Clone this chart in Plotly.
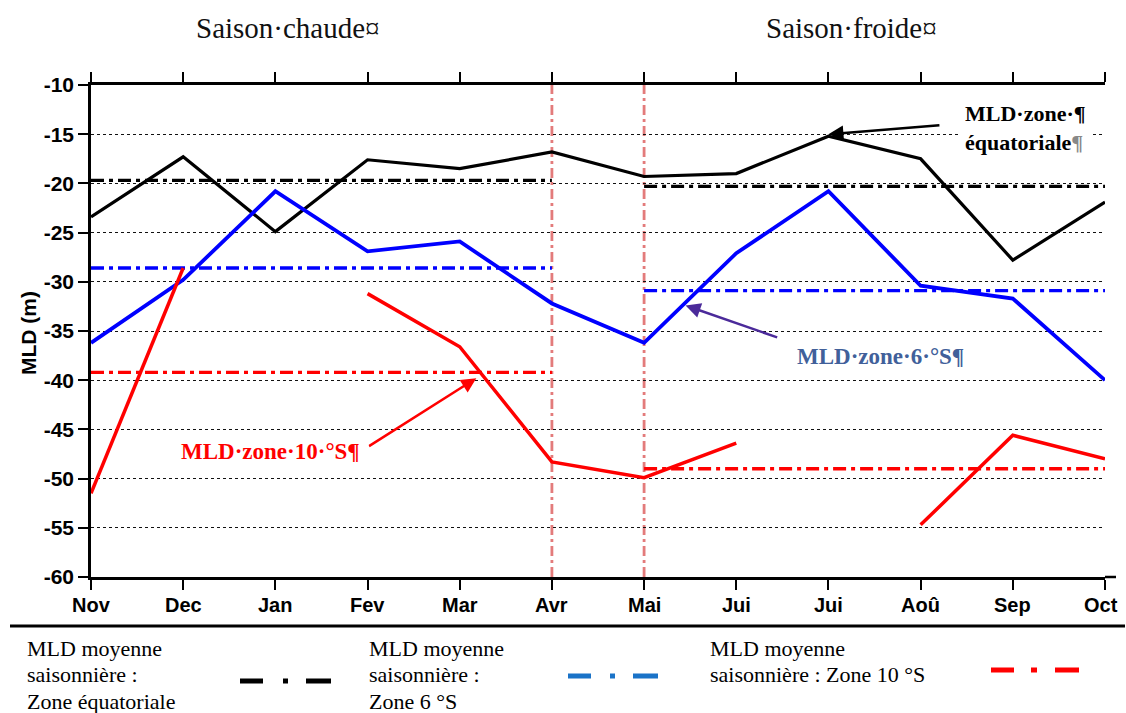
import plotly.graph_objects as go

# Months (Nov -> Oct); "Jui" appears twice (juin / juillet)
months = ["Nov", "Dec", "Jan", "Fev", "Mar", "Avr", "Mai", "Jui", "Jui", "Aoû", "Sep", "Oct"]

# Monthly mixed layer depth (m) per zone
mld_equateur = [-23.4, -17.3, -24.9, -17.6, -18.5, -16.8, -19.3, -19.0, -15.2, -17.5, -27.8, -21.9]
mld_6s = [-36.2, -29.8, -20.8, -26.9, -25.9, -32.2, -36.2, -27.1, -20.8, -30.4, -31.7, -40.0]
mld_10s = [-51.5, -28.6, None, -31.2, -36.6, -48.3, -49.9, -46.4, None, -54.7, -45.6, -48.0]

# Seasonal means (m): (saison chaude, saison froide)
moy_equateur = [-19.7, -20.3]
moy_6s = [-28.6, -30.9]
moy_10s = [-39.2, -49.0]

# Season spans as month indices
saison_chaude = [0, 5]
saison_froide = [6, 11]

y_ticks = [-10, -15, -20, -25, -30, -35, -40, -45, -50, -55, -60]

# Layout geometry (pixels)
W, H = 1126, 713
ML, MR, MT, MB = 91, 21, 85, 136
PW, PH = W - ML - MR, H - MT - MB


def px(x):
    return (x - ML) / PW


def py(y):
    return (H - MB - y) / PH


x = list(range(len(months)))
fig = go.Figure()

BLACK, BLUE, RED = "#000000", "#0000ff", "#ff0000"
mean_dash = "13px,5px,4px,5px"

# seasonal mean lines
for moy, col in [(moy_equateur, BLACK), (moy_6s, BLUE), (moy_10s, RED)]:
    for span, val in zip([saison_chaude, saison_froide], moy):
        fig.add_trace(go.Scatter(
            x=span, y=[val, val], mode="lines",
            line=dict(color=col, width=3.3, dash=mean_dash),
            showlegend=False, hoverinfo="skip"))

# monthly series
for serie, col, w in [(mld_equateur, BLACK, 3.2), (mld_6s, BLUE, 3.8), (mld_10s, RED, 3.5)]:
    fig.add_trace(go.Scatter(
        x=x, y=serie, mode="lines", connectgaps=False,
        line=dict(color=col, width=w), showlegend=False))

# season boundaries
for xb in [saison_chaude[1], saison_froide[0]]:
    fig.add_shape(type="line", xref="x", yref="paper", x0=xb, x1=xb, y0=0, y1=1,
                  line=dict(color="rgba(222,100,100,0.85)", width=2.8, dash="10px,4px,3px,4px"),
                  layer="below")

# bottom axis line runs a little past the last month
fig.add_shape(type="line", xref="paper", yref="paper", x0=1, x1=px(1116), y0=0, y1=0,
              line=dict(color="black", width=2.5))

serif = "Liberation Serif"
sans = "Liberation Sans"

# month labels under the axis (last one kept inside the page)
for i, m in enumerate(months):
    last = i == len(months) - 1
    fig.add_annotation(x=i, y=py(605), xref="x", yref="paper", showarrow=False,
                       xanchor="right" if last else "center", yanchor="middle",
                       xshift=15 if last else 0, text=m,
                       font=dict(family=sans, size=20, color="black", weight="bold"))

# arrows
arrows = [
    (8.0, -15.0, 9.22, -14.07, BLACK),
    (6.45, -32.4, 7.46, -35.7, "#4b2a9a"),
    (4.18, -39.8, 3.0, -46.8, RED),
]
for hx, hy, tx, ty, col in arrows:
    fig.add_annotation(x=hx, y=hy, ax=tx, ay=ty, xref="x", yref="y", axref="x", ayref="y",
                       text="", showarrow=True, arrowhead=2, arrowsize=1.2,
                       arrowwidth=2.5, arrowcolor=col)

# zone labels
fig.add_annotation(x=px(958), y=py(128), xref="paper", yref="paper", xanchor="left",
                   yanchor="middle", align="left", showarrow=False, bgcolor="white",
                   borderpad=6,
                   text="MLD·zone·¶<br>équatoriale<span style='color:#888'>¶</span>",
                   font=dict(family=serif, size=22, color=BLACK, weight="bold"))
fig.add_annotation(x=px(795), y=py(356), xref="paper", yref="paper", xanchor="left",
                   yanchor="middle", showarrow=False,
                   text="MLD·zone·6·°S¶",
                   font=dict(family=serif, size=23, color="#41609a", weight="bold"))
fig.add_annotation(x=px(172), y=py(451), xref="paper", yref="paper", xanchor="left",
                   yanchor="middle", showarrow=False, bgcolor="white", borderpad=8,
                   text="MLD·zone·10·°S¶",
                   font=dict(family=serif, size=23, color=RED, weight="bold"))

# season headers
for txt, cx in [("Saison·chaude¤", 288), ("Saison·froide¤", 851)]:
    fig.add_annotation(x=px(cx), y=py(28), xref="paper", yref="paper", showarrow=False,
                       xanchor="center", yanchor="middle",
                       text=txt, font=dict(family=serif, size=29, color="#111"))

# y title
fig.add_annotation(x=px(28), y=py(333), xref="paper", yref="paper", showarrow=False,
                   xanchor="center", yanchor="middle",
                   text="MLD (m)", textangle=-90,
                   font=dict(family=sans, size=21, color="black", weight="bold"))

# separator above the key
fig.add_shape(type="line", xref="paper", yref="paper", x0=px(10), x1=px(W - 1), y0=py(626),
              y1=py(626), line=dict(color="black", width=3))

# key texts
key_texts = [
    (25, ["MLD moyenne", "saisonnière :", "Zone équatoriale"]),
    (367, ["MLD moyenne", "saisonnière :", "Zone 6 °S"]),
    (708, ["MLD moyenne", "saisonnière : Zone 10 °S"]),
]
for x0, lines in key_texts:
    for i, ln in enumerate(lines):
        fig.add_annotation(x=px(x0), y=py(648 + 26.5 * i), xref="paper", yref="paper",
                           xanchor="left", yanchor="middle", showarrow=False, text=ln,
                           font=dict(family=serif, size=22, color="black"))

# key samples
key_samples = [
    (240, 331, 681, BLACK, "23px,20px,5px,18px,25px,20px"),
    (568, 658, 676, "#1a73c8", "23px,19px,5px,18px,25px,20px"),
    (991, 1079, 670, RED, "23px,17px,6px,18px,24px,20px"),
]
for x0, x1, yy, col, dash in key_samples:
    fig.add_shape(type="line", xref="paper", yref="paper", x0=px(x0), x1=px(x1),
                  y0=py(yy), y1=py(yy), line=dict(color=col, width=5, dash=dash))

fig.update_layout(
    width=W, height=H, autosize=False,
    margin=dict(l=ML, r=MR, t=MT, b=MB, pad=0),
    paper_bgcolor="white", plot_bgcolor="white",
    showlegend=False,
    xaxis=dict(range=[0, 11], tickvals=x, showticklabels=False, showgrid=False,
               showline=True, linecolor="black", linewidth=2.5, mirror="ticks",
               ticks="outside", ticklen=10, tickwidth=2, tickcolor="black",
               zeroline=False),
    yaxis=dict(range=[-60, -10], tickvals=y_ticks, ticktext=[str(v) for v in y_ticks],
               showgrid=True, gridcolor="#111", gridwidth=1, griddash="3px,3px",
               showline=True, linecolor="black", linewidth=2.5,
               ticks="outside", ticklen=10, tickwidth=2, tickcolor="black",
               zeroline=False,
               tickfont=dict(family=sans, size=21, color="black", weight="bold")),
    yaxis2=dict(range=[-60, -10], tickvals=y_ticks, overlaying="y", side="right",
                showgrid=False, showline=True, linecolor="black", linewidth=2.5,
                ticks="inside", ticklen=10, tickwidth=2, tickcolor="black",
                showticklabels=False, zeroline=False),
)

fig.write_html("out.html", config={"responsive": False})
